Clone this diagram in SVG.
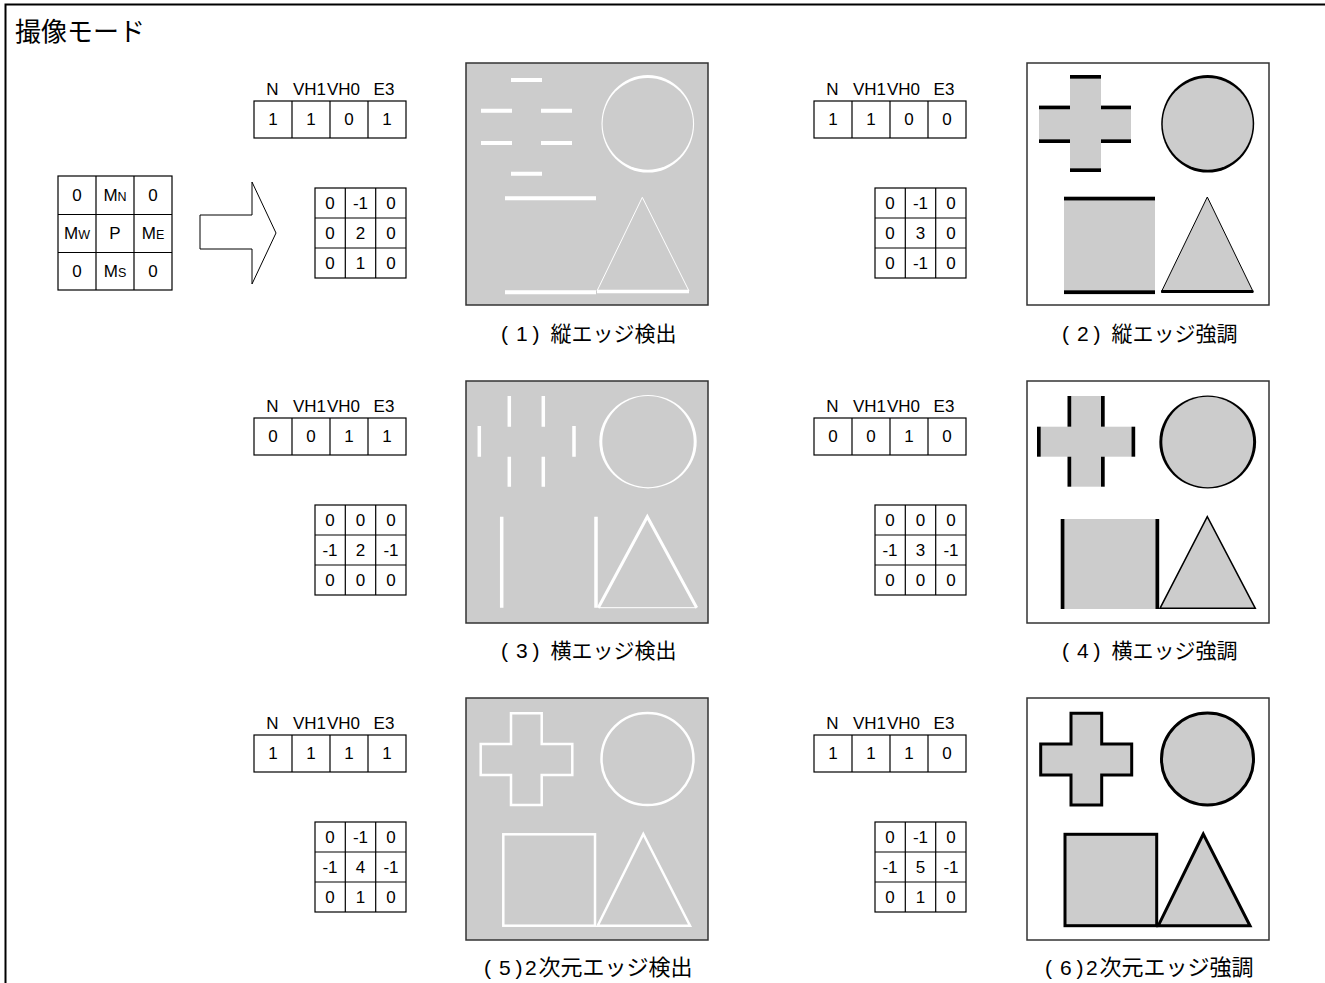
<svg xmlns="http://www.w3.org/2000/svg" width="1325" height="983" viewBox="0 0 1325 983">
<style>
  .t{font-family:"Liberation Sans","Noto Sans CJK JP",sans-serif;font-size:17px;fill:#000;text-anchor:middle}
  .cap{font-family:"Liberation Sans","Noto Sans CJK JP",sans-serif;font-size:21px;fill:#000}
  .cj{font-family:"Noto Sans CJK JP",sans-serif}
  .cj2{font-family:"Noto Sans CJK JP",sans-serif;font-size:22px}
  .title{font-family:"Liberation Sans","Noto Sans CJK JP",sans-serif;font-size:26px;fill:#000}
  .cell{fill:#fff;stroke:#000;stroke-width:1.2}
  .grid{stroke:#000;stroke-width:1.2;fill:none}
  .pg{fill:#cccccc;stroke:#333;stroke-width:1.5}
  .pw{fill:#fff;stroke:#333;stroke-width:1.5}
  .w{stroke:#fff;fill:none}
  .gk{fill:#cccccc;stroke:#000}
  .blk{fill:#000}
  .wf{fill:#fff}
  .gf{fill:#cccccc}
</style>
<defs>
  <g id="flag">
    <rect class="cell" x="0" y="0" width="152" height="37"/>
    <path class="grid" d="M38,0V37M76,0V37M114,0V37"/>
  </g>
  <g id="kern">
    <rect class="cell" x="0" y="0" width="91" height="90"/>
    <path class="grid" d="M30.3,0V90M60.7,0V90M0,30H91M0,60H91"/>
  </g>
</defs>
<rect x="0" y="0" width="1325" height="983" fill="#fff"/>
<path d="M5.5,983V4.5H1325" fill="none" stroke="#000" stroke-width="2"/>
<text class="title" x="15" y="41">撮像モード</text>

<g id="source-kernel">
  <rect class="cell" x="58" y="176" width="114" height="114" stroke-width="1.5"/>
  <path class="grid" stroke-width="1.5" d="M96,176V290M134,176V290M58,214.5H172M58,252.5H172"/>
  <text class="t" x="77" y="201">0</text>
  <text class="t" x="115" y="201">M<tspan font-size="12.5">N</tspan></text>
  <text class="t" x="153" y="201">0</text>
  <text class="t" x="77" y="239">M<tspan font-size="12.5">W</tspan></text>
  <text class="t" x="115" y="239">P</text>
  <text class="t" x="153" y="239">M<tspan font-size="12.5">E</tspan></text>
  <text class="t" x="77" y="277">0</text>
  <text class="t" x="115" y="277">M<tspan font-size="12.5">S</tspan></text>
  <text class="t" x="153" y="277">0</text>
</g>

<g id="connectors">
  <polygon points="200,215 252,215 252,182 276,233 252,284 252,249 200,249" fill="#fff" stroke="#000" stroke-width="1"/>
</g>

<g id="table1">
  <text class="t" x="272.5" y="95">N</text><text class="t" x="309.5" y="95">VH1</text><text class="t" x="343.5" y="95">VH0</text><text class="t" x="384" y="95">E3</text>
  <use href="#flag" x="254" y="101"/>
  <text class="t" x="273" y="125">1</text><text class="t" x="311" y="125">1</text><text class="t" x="349" y="125">0</text><text class="t" x="387" y="125">1</text>
  <use href="#kern" x="315" y="188"/>
  <text class="t" x="330" y="209">0</text><text class="t" x="360.5" y="209">-1</text><text class="t" x="391" y="209">0</text>
  <text class="t" x="330" y="239">0</text><text class="t" x="360.5" y="239">2</text><text class="t" x="391" y="239">0</text>
  <text class="t" x="330" y="269">0</text><text class="t" x="360.5" y="269">1</text><text class="t" x="391" y="269">0</text>
</g>
<g id="table2">
  <text class="t" x="832.5" y="95">N</text><text class="t" x="869.5" y="95">VH1</text><text class="t" x="903.5" y="95">VH0</text><text class="t" x="944" y="95">E3</text>
  <use href="#flag" x="814" y="101"/>
  <text class="t" x="833" y="125">1</text><text class="t" x="871" y="125">1</text><text class="t" x="909" y="125">0</text><text class="t" x="947" y="125">0</text>
  <use href="#kern" x="875" y="188"/>
  <text class="t" x="890" y="209">0</text><text class="t" x="920.5" y="209">-1</text><text class="t" x="951" y="209">0</text>
  <text class="t" x="890" y="239">0</text><text class="t" x="920.5" y="239">3</text><text class="t" x="951" y="239">0</text>
  <text class="t" x="890" y="269">0</text><text class="t" x="920.5" y="269">-1</text><text class="t" x="951" y="269">0</text>
</g>
<g id="table3">
  <text class="t" x="272.5" y="412">N</text><text class="t" x="309.5" y="412">VH1</text><text class="t" x="343.5" y="412">VH0</text><text class="t" x="384" y="412">E3</text>
  <use href="#flag" x="254" y="418"/>
  <text class="t" x="273" y="442">0</text><text class="t" x="311" y="442">0</text><text class="t" x="349" y="442">1</text><text class="t" x="387" y="442">1</text>
  <use href="#kern" x="315" y="505"/>
  <text class="t" x="330" y="526">0</text><text class="t" x="360.5" y="526">0</text><text class="t" x="391" y="526">0</text>
  <text class="t" x="330" y="556">-1</text><text class="t" x="360.5" y="556">2</text><text class="t" x="391" y="556">-1</text>
  <text class="t" x="330" y="586">0</text><text class="t" x="360.5" y="586">0</text><text class="t" x="391" y="586">0</text>
</g>
<g id="table4">
  <text class="t" x="832.5" y="412">N</text><text class="t" x="869.5" y="412">VH1</text><text class="t" x="903.5" y="412">VH0</text><text class="t" x="944" y="412">E3</text>
  <use href="#flag" x="814" y="418"/>
  <text class="t" x="833" y="442">0</text><text class="t" x="871" y="442">0</text><text class="t" x="909" y="442">1</text><text class="t" x="947" y="442">0</text>
  <use href="#kern" x="875" y="505"/>
  <text class="t" x="890" y="526">0</text><text class="t" x="920.5" y="526">0</text><text class="t" x="951" y="526">0</text>
  <text class="t" x="890" y="556">-1</text><text class="t" x="920.5" y="556">3</text><text class="t" x="951" y="556">-1</text>
  <text class="t" x="890" y="586">0</text><text class="t" x="920.5" y="586">0</text><text class="t" x="951" y="586">0</text>
</g>
<g id="table5">
  <text class="t" x="272.5" y="729">N</text><text class="t" x="309.5" y="729">VH1</text><text class="t" x="343.5" y="729">VH0</text><text class="t" x="384" y="729">E3</text>
  <use href="#flag" x="254" y="735"/>
  <text class="t" x="273" y="759">1</text><text class="t" x="311" y="759">1</text><text class="t" x="349" y="759">1</text><text class="t" x="387" y="759">1</text>
  <use href="#kern" x="315" y="822"/>
  <text class="t" x="330" y="843">0</text><text class="t" x="360.5" y="843">-1</text><text class="t" x="391" y="843">0</text>
  <text class="t" x="330" y="873">-1</text><text class="t" x="360.5" y="873">4</text><text class="t" x="391" y="873">-1</text>
  <text class="t" x="330" y="903">0</text><text class="t" x="360.5" y="903">1</text><text class="t" x="391" y="903">0</text>
</g>
<g id="table6">
  <text class="t" x="832.5" y="729">N</text><text class="t" x="869.5" y="729">VH1</text><text class="t" x="903.5" y="729">VH0</text><text class="t" x="944" y="729">E3</text>
  <use href="#flag" x="814" y="735"/>
  <text class="t" x="833" y="759">1</text><text class="t" x="871" y="759">1</text><text class="t" x="909" y="759">1</text><text class="t" x="947" y="759">0</text>
  <use href="#kern" x="875" y="822"/>
  <text class="t" x="890" y="843">0</text><text class="t" x="920.5" y="843">-1</text><text class="t" x="951" y="843">0</text>
  <text class="t" x="890" y="873">-1</text><text class="t" x="920.5" y="873">5</text><text class="t" x="951" y="873">-1</text>
  <text class="t" x="890" y="903">0</text><text class="t" x="920.5" y="903">1</text><text class="t" x="951" y="903">0</text>
</g>

<g id="panel1">
  <rect class="pg" x="466" y="63" width="242" height="242"/>
  <path class="w" stroke-width="4" d="M511,80H542M481,110.7H512M541,110.7H572M481,143H512M541,143H572M511,173.7H542M505,198.3H596M505,292.3H596"/>
  <ellipse class="wf" cx="647.8" cy="123.8" rx="46.3" ry="48.8"/>
  <ellipse class="gf" cx="647.8" cy="123.8" rx="45.2" ry="45.9"/>
  <path class="w" stroke-width="1" d="M597,291L642.3,197.3L689,291"/>
  <path class="w" stroke-width="3.5" d="M597,291.5H689"/>
  <text class="cap" y="341"><tspan x="501" >(</tspan><tspan x="516">1</tspan><tspan x="532.5">)</tspan><tspan class="cj" x="550.5">縦エッジ検出</tspan></text>
</g>

<g id="panel2">
  <rect class="pw" x="1027" y="63" width="242" height="242"/>
  <rect class="gf" x="1070" y="78.7" width="31" height="89.6"/>
  <rect class="gf" x="1039" y="109.3" width="92" height="30"/>
  <rect class="blk" x="1070" y="75" width="31" height="3.7"/>
  <rect class="blk" x="1039" y="105.6" width="31" height="3.7"/>
  <rect class="blk" x="1101" y="105.6" width="30" height="3.7"/>
  <rect class="blk" x="1039" y="139.3" width="31" height="3.7"/>
  <rect class="blk" x="1101" y="139.3" width="30" height="3.7"/>
  <rect class="blk" x="1070" y="168.3" width="31" height="3.7"/>
  <ellipse class="blk" cx="1207.7" cy="123.8" rx="46.5" ry="48.8"/>
  <ellipse class="gf" cx="1207.7" cy="123.8" rx="45" ry="45.9"/>
  <rect class="gf" x="1064" y="200.5" width="91" height="90"/>
  <rect class="blk" x="1064" y="196.7" width="91" height="3.8"/>
  <rect class="blk" x="1064" y="290.3" width="91" height="3.8"/>
  <polygon class="gk" stroke-width="1" points="1207.3,197 1161.3,292 1253.3,292"/>
  <path stroke="#000" stroke-width="3" d="M1161.3,291.5H1253.3"/>
  <text class="cap" y="341"><tspan x="1062">(</tspan><tspan x="1077">2</tspan><tspan x="1093.5">)</tspan><tspan class="cj" x="1111.5">縦エッジ強調</tspan></text>
</g>

<g id="panel3">
  <rect class="pg" x="466" y="381" width="242" height="242"/>
  <path class="w" stroke-width="3.5" d="M509.3,396V426.7M543.3,396V426.7M479.3,426V456.7M574,426V456.7M509.3,456.7V486.7M543.3,456.7V486.7M501.7,516.7V607.7M596,516.7V607.7"/>
  <ellipse class="wf" cx="648" cy="441.7" rx="48.7" ry="46.7"/>
  <ellipse class="gf" cx="648" cy="441.7" rx="45.7" ry="45.6"/>
  <path class="w" stroke-width="3" d="M598.3,607.7L647.3,516.7L696.7,607.7"/>
  <path class="w" stroke-width="1" d="M598.3,607.7H696.7"/>
  <text class="cap" y="658"><tspan x="501">(</tspan><tspan x="516">3</tspan><tspan x="532.5">)</tspan><tspan class="cj" x="550.5">横エッジ検出</tspan></text>
</g>

<g id="panel4">
  <rect class="pw" x="1027" y="381" width="242" height="242"/>
  <rect class="gf" x="1071" y="396" width="30" height="90.7"/>
  <rect class="gf" x="1040.5" y="426.7" width="91" height="30"/>
  <rect class="blk" x="1067.5" y="396" width="3.7" height="30.7"/>
  <rect class="blk" x="1101" y="396" width="3.7" height="30.7"/>
  <rect class="blk" x="1067.5" y="456.7" width="3.7" height="30"/>
  <rect class="blk" x="1101" y="456.7" width="3.7" height="30"/>
  <rect class="blk" x="1037" y="426.7" width="3.7" height="30"/>
  <rect class="blk" x="1131.5" y="426.7" width="3.7" height="30"/>
  <ellipse class="blk" cx="1207.7" cy="442" rx="48.4" ry="46.5"/>
  <ellipse class="gf" cx="1207.7" cy="442" rx="45.4" ry="45.3"/>
  <rect class="gf" x="1064" y="519" width="92" height="90"/>
  <rect class="blk" x="1060.7" y="519" width="3.7" height="90"/>
  <rect class="blk" x="1155.5" y="519" width="3.7" height="90"/>
  <polygon class="gk" stroke-width="1.5" points="1207.3,516.7 1160,608.3 1255.3,608.3"/>
  <text class="cap" y="658"><tspan x="1062">(</tspan><tspan x="1077">4</tspan><tspan x="1093.5">)</tspan><tspan class="cj" x="1111.5">横エッジ強調</tspan></text>
</g>

<g id="panel5">
  <rect class="pg" x="466" y="698" width="242" height="242"/>
  <path class="w" stroke-width="2.5" d="M511,713.3H541.7V744H572.3V775H541.7V805H511V775H480.7V744H511Z"/>
  <circle class="w" cx="647.5" cy="759" r="46" stroke-width="2.5"/>
  <rect class="w" stroke-width="2.5" x="503.3" y="834.3" width="91.7" height="91.4"/>
  <polygon class="w" stroke-width="2.5" points="643.3,834 597.7,925.7 690,925.7"/>
  <text class="cap" y="975"><tspan x="484">(</tspan><tspan x="499">5</tspan><tspan x="515.5">)</tspan><tspan x="525">2</tspan><tspan class="cj2" x="538.5">次元エッジ検出</tspan></text>
</g>

<g id="panel6">
  <rect class="pw" x="1027" y="698" width="242" height="242"/>
  <path class="gk" stroke-width="3" d="M1071,713.3H1101.7V744H1131.7V775H1101.7V805H1071V775H1040.7V744H1071Z"/>
  <circle class="gk" cx="1207.5" cy="759" r="46" stroke-width="3"/>
  <rect class="gk" stroke-width="3" x="1065" y="834.3" width="91.7" height="91.4"/>
  <polygon class="gk" stroke-width="3" points="1203.3,834 1158.3,925.7 1250,925.7"/>
  <text class="cap" y="975"><tspan x="1045">(</tspan><tspan x="1060">6</tspan><tspan x="1076.5">)</tspan><tspan x="1086">2</tspan><tspan class="cj2" x="1099.5">次元エッジ強調</tspan></text>
</g>
</svg>
